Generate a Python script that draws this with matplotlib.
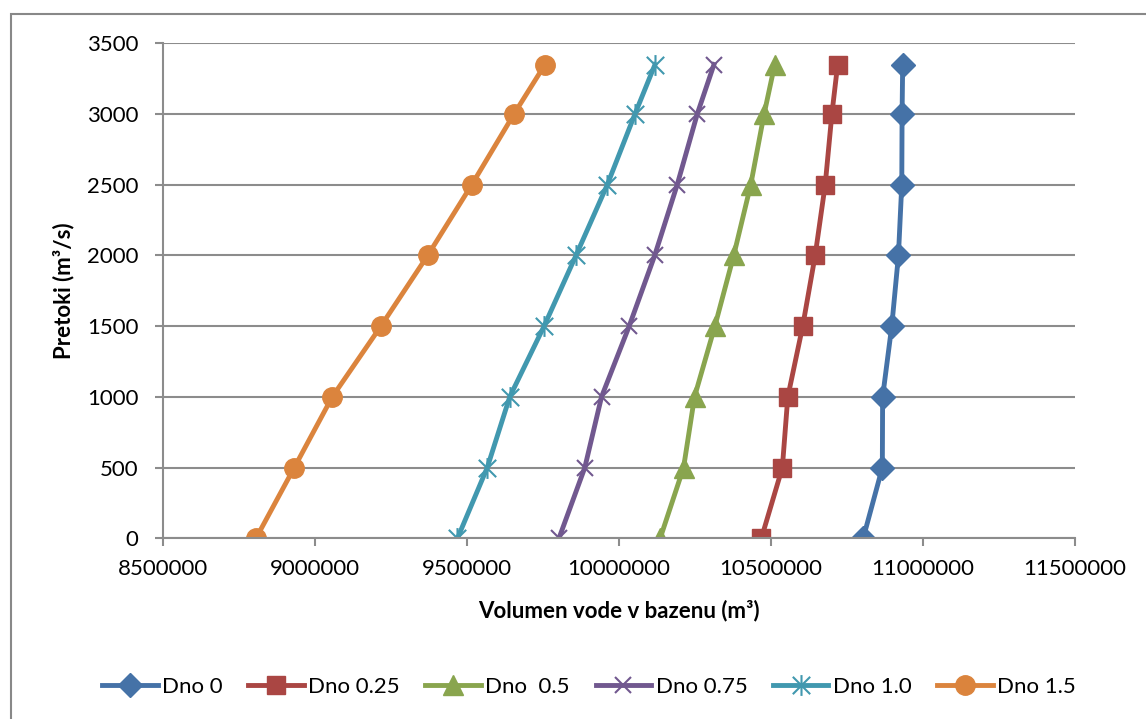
import matplotlib
matplotlib.use("Agg")
import matplotlib.pyplot as plt
from matplotlib.path import Path
from matplotlib.patches import Rectangle

plt.rcParams['font.family'] = ['Lato', 'DejaVu Sans']

# flows (m3/s)
pretoki = [0, 500, 1000, 1500, 2000, 2500, 3000, 3350]

# basin water volume (m3) per bottom level
dno_0 = [10803000, 10866000, 10867000, 10897000, 10919000, 10930000, 10931000, 10933000]
dno_025 = [10468000, 10537000, 10555000, 10604000, 10645000, 10678000, 10700000, 10719000]
dno_05 = [10135000, 10212000, 10248000, 10315000, 10377000, 10433000, 10477000, 10512000]
dno_075 = [9802000, 9887000, 9942000, 10033000, 10117000, 10191000, 10257000, 10312000]
dno_10 = [9468000, 9566000, 9640000, 9753000, 9858000, 9961000, 10052000, 10118000]
dno_15 = [8805000, 8931000, 9056000, 9216000, 9370000, 9515000, 9654000, 9756000]

labels = ['Dno 0', 'Dno 0.25', 'Dno  0.5', 'Dno 0.75', 'Dno 1.0', 'Dno 1.5']
x_ticks = [8500000, 9000000, 9500000, 10000000, 10500000, 11000000, 11500000]
y_ticks = [0, 500, 1000, 1500, 2000, 2500, 3000, 3500]

# excel style "star" marker: an x with a vertical bar
star = Path([(-1, -1), (1, 1), (-1, 1), (1, -1), (0, -1.2), (0, 1.2)],
            [Path.MOVETO, Path.LINETO, Path.MOVETO, Path.LINETO, Path.MOVETO, Path.LINETO])

fig = plt.figure(figsize=(11.46, 7.19), dpi=100)
ax = fig.add_axes([163.3 / 1146, 1 - 538.3 / 719, (1075 - 163.3) / 1146, (538.3 - 43.3) / 719])

# chart border
fig.patches.append(Rectangle((11 / 1146, -0.1), 1.2, 1 - 14 / 719 + 0.1, transform=fig.transFigure,
                             fill=False, edgecolor='#888888', linewidth=1.5))

series = [
    (dno_0, '#4572A7', dict(marker='D', markersize=12)),
    (dno_025, '#AA4643', dict(marker='s', markersize=13)),
    (dno_05, '#89A54E', dict(marker='^', markersize=14)),
    (dno_075, '#71588F', dict(marker='x', markersize=12, markeredgewidth=1.5)),
    (dno_10, '#4198AF', dict(marker=star, markersize=15, markeredgewidth=1.5)),
    (dno_15, '#DB843D', dict(marker='o', markersize=14)),
]

for (vals, col, mk), lab in zip(series, labels):
    ax.plot(vals, pretoki, color=col, linewidth=3.5, label=lab,
            markerfacecolor=col, markeredgecolor=col, **mk)

ax.set_xlim(8500000, 11500000)
ax.set_ylim(0, 3500)
ax.set_xticks(x_ticks)
ax.set_yticks(y_ticks)
ax.set_xticklabels([str(v) for v in x_ticks])
ax.set_yticklabels([str(v) for v in y_ticks])

ax.grid(axis='y', color='#8c8c8c', linewidth=1.5)
ax.set_axisbelow(True)
for s in ['top', 'right']:
    ax.spines[s].set_visible(False)
for s in ['left', 'bottom']:
    ax.spines[s].set_color('#8c8c8c')
    ax.spines[s].set_linewidth(1.5)
ax.tick_params(axis='both', colors='#8c8c8c', width=1.5, length=6, labelsize=16, labelcolor='black')
ax.tick_params(axis='y', pad=12)
ax.tick_params(axis='x', pad=9)

ax.set_xlabel('Volumen vode v bazenu (m³)', fontsize=16, fontweight='bold', labelpad=15)
ax.set_ylabel('Pretoki (m³/s)', fontsize=16, fontweight='bold', labelpad=9)

fig.legend(loc='center', bbox_to_anchor=(589 / 1146, 1 - 687 / 719), ncol=6, frameon=False,
           fontsize=16, handlelength=2.5, handletextpad=0.2, columnspacing=1.15)

fig.savefig('out.png', dpi=100)
